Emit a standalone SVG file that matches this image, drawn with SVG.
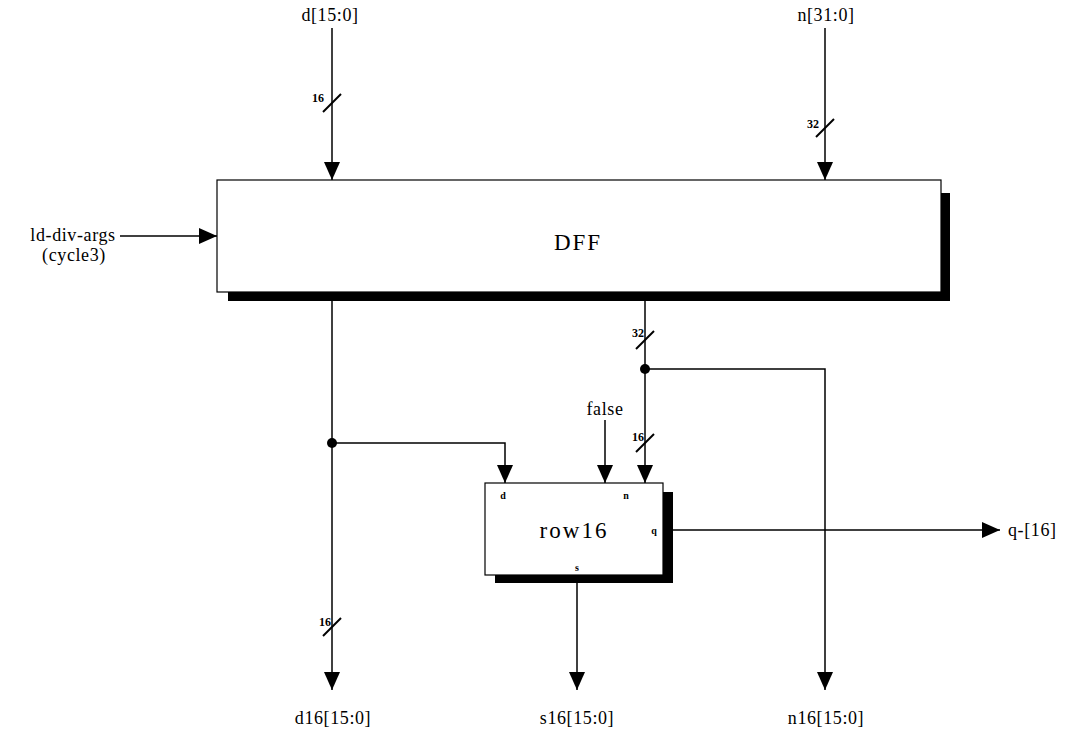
<svg xmlns="http://www.w3.org/2000/svg" width="1081" height="732" viewBox="0 0 1081 732">
<style>
text{font-family:"Liberation Serif","DejaVu Serif",serif;fill:#000}
.lbl{font-size:18px;letter-spacing:0.6px}
.bus{font-size:12px;font-weight:bold}
.port{font-size:10px;font-weight:bold}
.title{font-size:23px;letter-spacing:2px}
.w{stroke:#000;stroke-width:1.5;fill:none}
.sl{stroke:#000;stroke-width:2}
.box{fill:#fff;stroke:#000;stroke-width:1.2}
.sh{fill:#000}
</style>
<defs>
<marker id="ah" viewBox="0 0 18 16" refX="18" refY="8" markerWidth="18" markerHeight="16" markerUnits="userSpaceOnUse" orient="auto">
<path d="M0,0 L18,8 L0,16 Z" fill="#000"/>
</marker>
</defs>
<rect width="1081" height="732" fill="#fff"/>
<g id="DFF">
<rect class="sh" x="228" y="193" width="722" height="108"/>
<rect class="box" x="217" y="180" width="724" height="112"/>
<text class="title" x="578" y="250" text-anchor="middle">DFF</text>
</g>
<g id="row16">
<rect class="sh" x="495" y="492" width="178" height="91"/>
<rect class="box" x="485" y="483" width="178" height="92"/>
<text class="title" x="574" y="538" text-anchor="middle">row16</text>
<text class="port" x="503" y="499" text-anchor="middle">d</text>
<text class="port" x="626" y="499" text-anchor="middle">n</text>
<text class="port" x="654" y="534" text-anchor="middle">q</text>
<text class="port" x="577" y="571" text-anchor="middle">s</text>
</g>
<g id="labels">
<text class="lbl" x="330" y="21" text-anchor="middle">d[15:0]</text>
<text class="lbl" x="826" y="21" text-anchor="middle">n[31:0]</text>
<text class="lbl" x="73" y="241" text-anchor="middle">ld-div-args</text>
<text class="lbl" x="74" y="261" text-anchor="middle">(cycle3)</text>
<text class="lbl" x="605" y="415" text-anchor="middle">false</text>
<text class="lbl" x="1008" y="536">q-[16]</text>
<text class="lbl" x="333" y="724" text-anchor="middle">d16[15:0]</text>
<text class="lbl" x="577" y="724" text-anchor="middle">s16[15:0]</text>
<text class="lbl" x="826" y="724" text-anchor="middle">n16[15:0]</text>
</g>
<g id="connectors">
<line class="w" x1="332" y1="28" x2="332" y2="180" marker-end="url(#ah)"/>
<line class="w" x1="825" y1="28" x2="825" y2="180" marker-end="url(#ah)"/>
<line class="w" x1="120" y1="236" x2="217" y2="236" marker-end="url(#ah)"/>
<line class="w" x1="332" y1="301" x2="332" y2="690" marker-end="url(#ah)"/>
<polyline class="w" points="332,443 505,443 505,483" marker-end="url(#ah)"/>
<line class="w" x1="645" y1="301" x2="645" y2="483" marker-end="url(#ah)"/>
<polyline class="w" points="645,369 825,369 825,690" marker-end="url(#ah)"/>
<line class="w" x1="605" y1="420" x2="605" y2="483" marker-end="url(#ah)"/>
<line class="w" x1="673" y1="530" x2="1000" y2="530" marker-end="url(#ah)"/>
<line class="w" x1="577" y1="583" x2="577" y2="690" marker-end="url(#ah)"/>
<circle cx="332" cy="443" r="5"/>
<circle cx="645" cy="369" r="5"/>
<line class="sl" x1="323" y1="112" x2="341" y2="94"/>
<text class="bus" x="324" y="102" text-anchor="end">16</text>
<line class="sl" x1="816" y1="137" x2="834" y2="119"/>
<text class="bus" x="819" y="128" text-anchor="end">32</text>
<line class="sl" x1="636" y1="349" x2="654" y2="331"/>
<text class="bus" x="644" y="337" text-anchor="end">32</text>
<line class="sl" x1="636" y1="452" x2="654" y2="434"/>
<text class="bus" x="644" y="441" text-anchor="end">16</text>
<line class="sl" x1="323" y1="636" x2="341" y2="618"/>
<text class="bus" x="331" y="626" text-anchor="end">16</text>
</g>
</svg>
